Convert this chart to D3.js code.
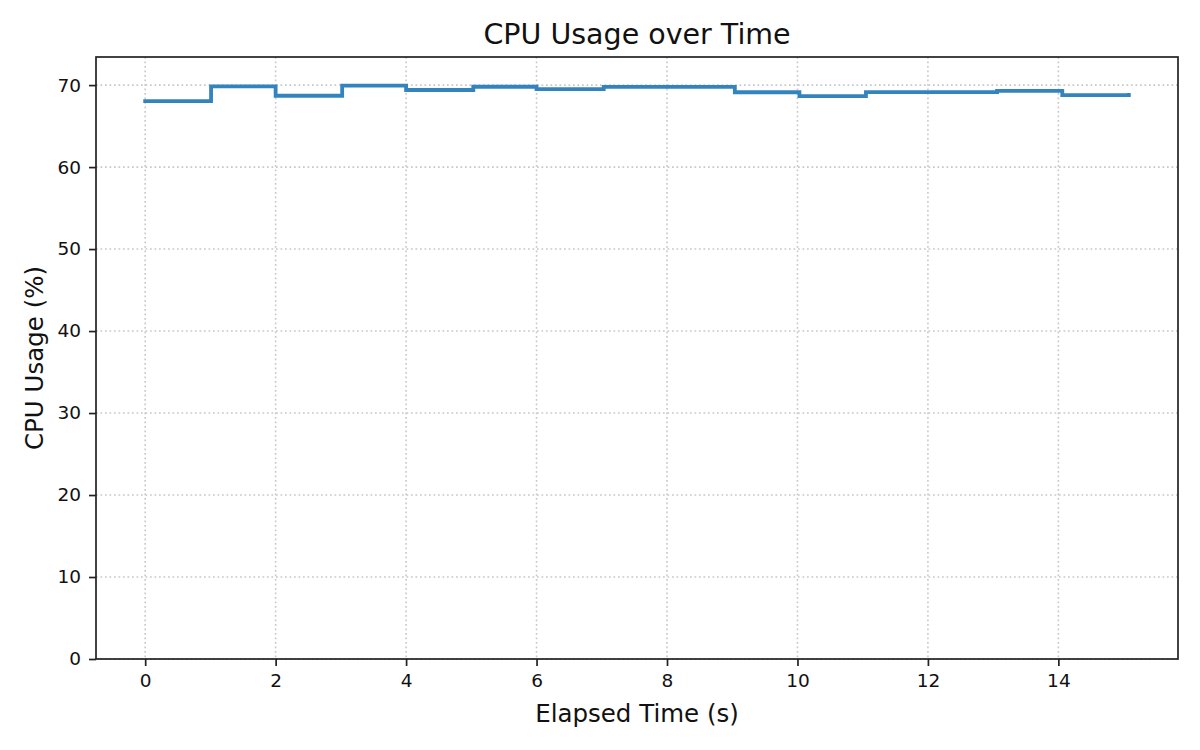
<!DOCTYPE html>
<html>
<head>
<meta charset="utf-8">
<script src="https://cdn.jsdelivr.net/npm/d3@7"></script>
<style>
  html, body { margin: 0; padding: 0; background: white; }
  svg { display: block; font-family: "DejaVu Sans", sans-serif; }
</style>
</head>
<body>
<svg width="1200" height="750"></svg>
<script>
// samples (seconds, percent)
var elapsed = [0, 1.01, 2.0, 3.02, 4.0, 5.03, 6.0, 7.03, 8.02, 9.04, 10.03, 11.05, 12.04, 13.06, 14.06, 15.08]
var cpuUsage = [68.05, 69.84, 68.7, 69.93, 69.4, 69.8, 69.5, 69.78, 69.78, 69.13, 68.66, 69.15, 69.15, 69.29, 68.78, 68.8]
var xTicks = [0, 2, 4, 6, 8, 10, 12, 14]
var yTicks = [0, 10, 20, 30, 40, 50, 60, 70]

var svg = d3.select("svg")
var plotLeft = 96, plotRight = 1178, plotTop = 57, plotBottom = 659

// matplotlib style 5% padding on x, y from 0 to max*1.05
var xMax = d3.max(elapsed), pad = xMax * 0.05
var x = d3.scaleLinear().domain([-pad, xMax + pad]).range([plotLeft, plotRight])
var y = d3.scaleLinear().domain([0, d3.max(cpuUsage) * 1.05]).range([plotBottom, plotTop])

//Grid
var grid = svg.append("g")
grid.selectAll(".gx").data(xTicks).enter().append("line")
    .attr("x1", d => x(d)).attr("x2", d => x(d))
    .attr("y1", plotTop).attr("y2", plotBottom)
grid.selectAll(".gy").data(yTicks).enter().append("line")
    .attr("y1", d => y(d)).attr("y2", d => y(d))
    .attr("x1", plotLeft).attr("x2", plotRight)
grid.selectAll("line")
    .attr("stroke", "#c8c8c8").attr("stroke-width", 1.6)
    .attr("stroke-dasharray", "1.7,2.8")

//Step line
var pts = elapsed.map((t, i) => [t, cpuUsage[i]])
svg.append("path").datum(pts)
    .attr("d", d3.line().x(d => x(d[0])).y(d => y(d[1])).curve(d3.curveStepAfter))
    .attr("fill", "none").attr("stroke", "#3384be")
    .attr("stroke-width", 3.8).attr("stroke-linecap", "square")

//Axes
svg.append("g").attr("transform", "translate(0," + plotBottom + ")")
    .call(d3.axisBottom(x).tickValues(xTicks).tickFormat(d3.format("d")).tickSizeOuter(0).tickSize(7).tickPadding(8))
svg.append("g").attr("transform", "translate(" + plotLeft + ",0)")
    .call(d3.axisLeft(y).tickValues(yTicks).tickFormat(d3.format("d")).tickSizeOuter(0).tickSize(7).tickPadding(8))
svg.selectAll(".domain").remove()
svg.selectAll(".tick line").attr("stroke", "#222").attr("stroke-width", 1.7)
svg.selectAll(".tick text")
    .style("font-size", "18.5px").style("font-family", "DejaVu Sans, sans-serif").attr("fill", "#111")

//Frame
svg.append("rect")
    .attr("x", plotLeft).attr("y", plotTop)
    .attr("width", plotRight - plotLeft).attr("height", plotBottom - plotTop)
    .attr("fill", "none").attr("stroke", "#222").attr("stroke-width", 1.7)

//Labels
svg.append("text").text("CPU Usage over Time")
    .attr("x", (plotLeft + plotRight) / 2).attr("y", 44)
    .attr("text-anchor", "middle").style("font-size", "28.5px").attr("fill", "#111")
svg.append("text").text("Elapsed Time (s)")
    .attr("x", (plotLeft + plotRight) / 2).attr("y", 722)
    .attr("text-anchor", "middle").style("font-size", "24.5px").attr("fill", "#111")
svg.append("text").text("CPU Usage (%)")
    .attr("transform", "translate(43," + (plotTop + plotBottom) / 2 + ") rotate(-90)")
    .attr("text-anchor", "middle").style("font-size", "24.5px").attr("fill", "#111")
</script>
</body>
</html>
